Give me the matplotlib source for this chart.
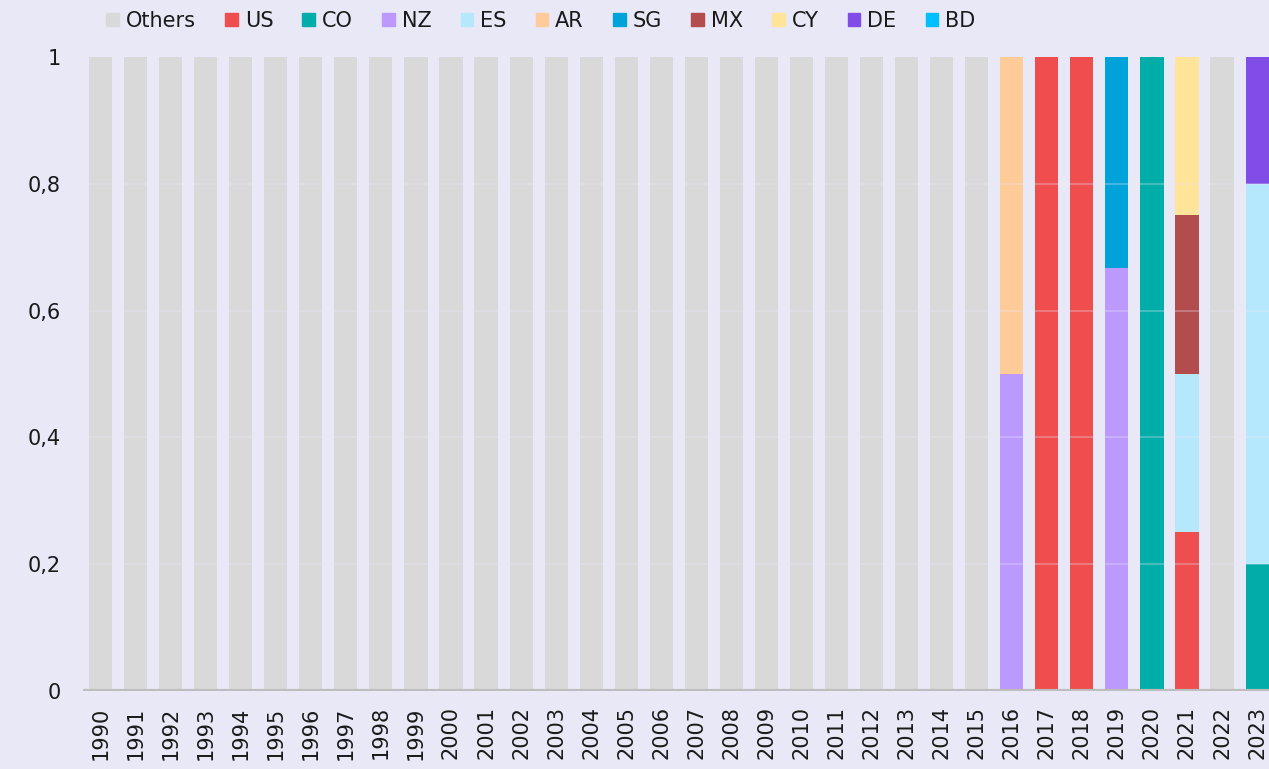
import numpy as np
import matplotlib.pyplot as plt
from matplotlib.patches import Patch

plt.rcParams['font.family'] = ['DejaVu Sans']

# years on the x axis
years = [str(y) for y in range(1990, 2024)]

# shares per country, one value per year
others = [1]*26 + [0, 0, 0, 0, 0, 0, 1, 0]
us     = [0]*26 + [0, 1, 1, 0, 0, 0.25, 0, 0]
co     = [0]*26 + [0, 0, 0, 0, 1, 0, 0, 0.2]
nz     = [0]*26 + [0.5, 0, 0, 0.667, 0, 0, 0, 0]
es     = [0]*26 + [0, 0, 0, 0, 0, 0.25, 0, 0.6]
ar     = [0]*26 + [0.5, 0, 0, 0, 0, 0, 0, 0]
sg     = [0]*26 + [0, 0, 0, 0.333, 0, 0, 0, 0]
mx     = [0]*26 + [0, 0, 0, 0, 0, 0.25, 0, 0]
cy     = [0]*26 + [0, 0, 0, 0, 0, 0.25, 0, 0]
de     = [0]*26 + [0, 0, 0, 0, 0, 0, 0, 0.2]
bd     = [0]*34

series = [("Others", others, "#D9D9D9"),
          ("US", us, "#F04E4E"),
          ("CO", co, "#00ADA8"),
          ("NZ", nz, "#BB99FF"),
          ("ES", es, "#B5E8FC"),
          ("AR", ar, "#FFCC99"),
          ("SG", sg, "#00A3D9"),
          ("MX", mx, "#B34D4D"),
          ("CY", cy, "#FFE499"),
          ("DE", de, "#804DE6"),
          ("BD", bd, "#00BFFF")]

bg = "#E9E8F6"
fig = plt.figure(figsize=(12.69, 7.69), dpi=100, facecolor=bg)
ax = fig.add_axes([0.0654, 0.1014, 0.9346, 0.8246], facecolor=bg)

x = np.arange(len(years))
bottom = np.zeros(len(years))
handles = []
for name, vals, col in series:
    vals = np.array(vals, dtype=float)
    ax.bar(x, vals, bottom=bottom, width=0.66, color=col, zorder=2)
    bottom += vals
    handles.append(Patch(color=col, label=name))

# faint grid over the bars
for yv in [0.2, 0.4, 0.6, 0.8]:
    ax.axhline(yv, color="#E9E8F6", alpha=0.35, lw=1.2, zorder=3)
ax.axhline(0, color="#BDBDBD", lw=3, zorder=4)

ax.set_xlim(-0.5, 33.34)
ax.set_ylim(0, 1)
ax.set_xticks(x)
ax.set_xticklabels(years, rotation=90, fontsize=15, color="#1a1a1a")
ax.set_yticks([0, 0.2, 0.4, 0.6, 0.8, 1])
ax.set_yticklabels(["0", "0,2", "0,4", "0,6", "0,8", "1"], fontsize=15, color="#1a1a1a")
ax.tick_params(axis="both", length=0)
ax.tick_params(axis="y", pad=16)
ax.tick_params(axis="x", pad=11)
for s in ax.spines.values():
    s.set_visible(False)

fig.legend(handles=handles, loc="upper left", bbox_to_anchor=(0.069, 1.01), ncol=11,
           frameon=False, fontsize=15, handlelength=0.6, handleheight=0.6,
           handletextpad=0.34, columnspacing=1.4, labelcolor="#1a1a1a")

fig.savefig("out.png", dpi=100, facecolor=bg)
